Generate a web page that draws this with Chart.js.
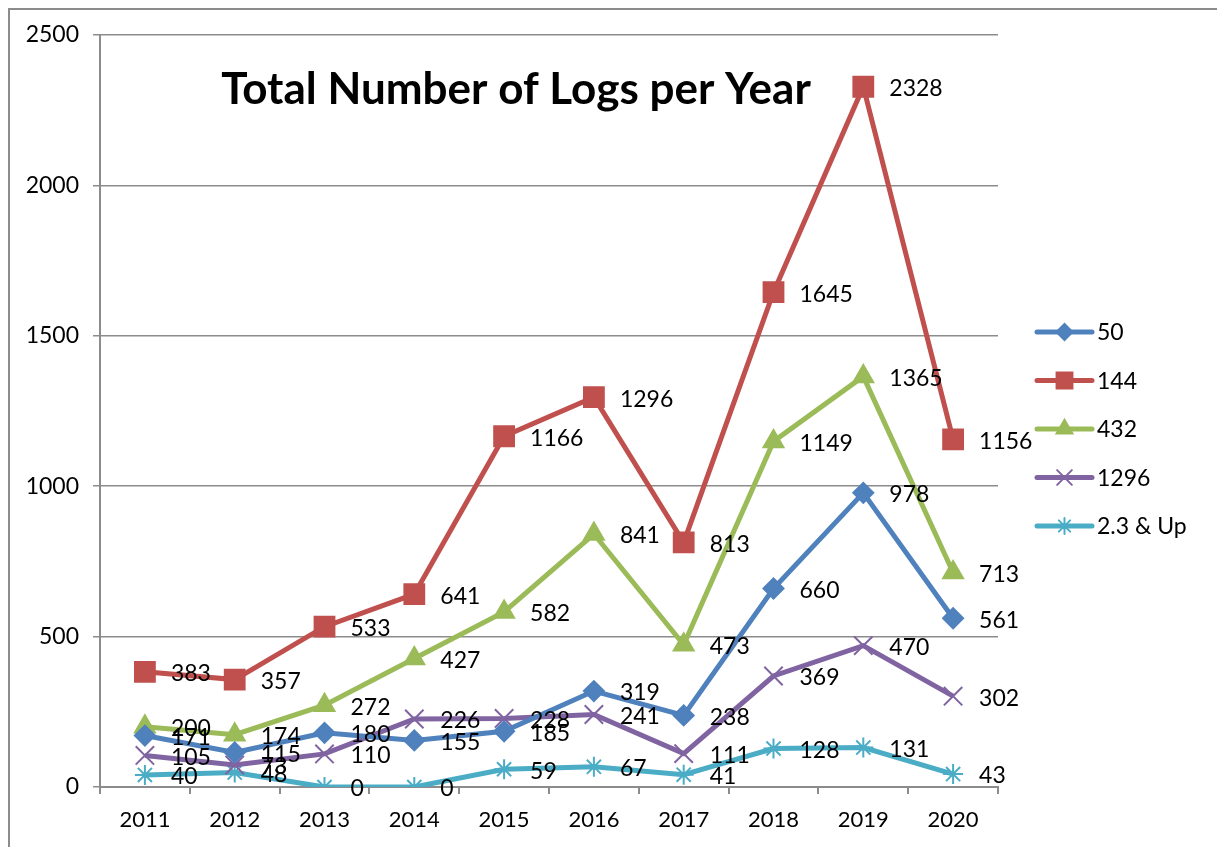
<!DOCTYPE html>
<html>
<head>
<meta charset="utf-8">
<script src="https://cdn.jsdelivr.net/npm/chart.js@4"></script>
<style>
  html, body { margin: 0; padding: 0; background: #fff; overflow: hidden; }
  #wrap { position: relative; width: 1217px; height: 847px; }
  #frame { position: absolute; left: 8px; top: 8px; width: 1230px; height: 860px; border: 2px solid #8c8c8c; box-sizing: border-box; pointer-events: none; }
  canvas { position: absolute; left: 0; top: 0; }
</style>
</head>
<body>
<div id="wrap">
  <canvas id="chart" width="1217" height="847"></canvas>
  <div id="frame"></div>
</div>
<script>
// ---- datos ----
const years = ["2011", "2012", "2013", "2014", "2015", "2016", "2017", "2018", "2019", "2020"];
const s50 = [171, 115, 180, 155, 185, 319, 238, 660, 978, 561];
const s144 = [383, 357, 533, 641, 1166, 1296, 813, 1645, 2328, 1156];
const s432 = [200, 174, 272, 427, 582, 841, 473, 1149, 1365, 713];
const s1296 = [105, 73, 110, 226, 228, 241, 111, 369, 470, 302];
const s23up = [40, 48, 0, 0, 59, 67, 41, 128, 131, 43];
const seriesNames = ["50", "144", "432", "1296", "2.3 & Up"];
const yTicks = [0, 500, 1000, 1500, 2000, 2500];

const FONT = "Lato, 'Liberation Sans', sans-serif";

function ds(label, data, color, style, radius) {
  return {
    label, data,
    borderColor: color, backgroundColor: color,
    pointStyle: style, pointRadius: radius, pointHoverRadius: radius,
    pointBorderColor: color, pointBackgroundColor: color,
    pointBorderWidth: 2,
    borderWidth: 5, tension: 0
  };
}

// etiquetas de datos a la derecha del punto
const valueLabels = {
  id: "valueLabels",
  afterDatasetsDraw(chart) {
    const ctx = chart.ctx;
    ctx.save();
    ctx.font = "23px " + FONT;
    ctx.fillStyle = "#000";
    ctx.textAlign = "left";
    ctx.textBaseline = "middle";
    chart.data.datasets.forEach((d, i) => {
      chart.getDatasetMeta(i).data.forEach((pt, j) => {
        ctx.fillText(String(d.data[j]), pt.x + 26, pt.y + 2);
      });
    });
    ctx.restore();
  }
};

// titulo dentro del area
const innerTitle = {
  id: "innerTitle",
  afterDraw(chart) {
    const ctx = chart.ctx;
    ctx.save();
    ctx.font = "bold 44px " + FONT;
    ctx.fillStyle = "#000";
    ctx.textAlign = "center";
    ctx.textBaseline = "middle";
    ctx.fillText("Total Number of Logs per Year", 516, 90);
    ctx.restore();
  }
};

// leyenda con linea + marcador
const sideLegend = {
  id: "sideLegend",
  afterDraw(chart) {
    const ctx = chart.ctx;
    const x0 = 1037, x1 = 1092, top = 332, step = 48.5;
    ctx.save();
    chart.data.datasets.forEach((d, i) => {
      const y = top + i * step;
      ctx.strokeStyle = d.borderColor;
      ctx.lineWidth = 5;
      ctx.lineCap = "round";
      ctx.beginPath();
      ctx.moveTo(x0, y);
      ctx.lineTo(x1, y);
      ctx.stroke();
      ctx.fillStyle = d.backgroundColor;
      ctx.lineWidth = 2;
      Chart.helpers.drawPoint(ctx, { pointStyle: d.pointStyle, radius: d.pointRadius * 0.8, rotation: 0, borderWidth: 2 }, (x0 + x1) / 2, y);
      ctx.fillStyle = "#000";
      ctx.font = "23px " + FONT;
      ctx.textAlign = "left";
      ctx.textBaseline = "middle";
      ctx.fillText(d.label, 1097, y + 1);
    });
    ctx.restore();
  }
};

new Chart(document.getElementById("chart"), {
  type: "line",
  data: {
    labels: years,
    datasets: [
      ds(seriesNames[0], s50, "#4F81BD", "rectRot", 10),
      ds(seriesNames[1], s144, "#C0504D", "rect", 14),
      ds(seriesNames[2], s432, "#9BBB59", "triangle", 11.5),
      ds(seriesNames[3], s1296, "#8064A2", "crossRot", 13),
      ds(seriesNames[4], s23up, "#4BACC6", "star", 10)
    ]
  },
  options: {
    responsive: false,
    animation: false,
    layout: { padding: { left: 0, top: 35, right: 219, bottom: 0 } },
    scales: {
      x: {
        offset: true,
        afterFit(s) { s.height = 60; },
        grid: { display: true, offset: true, drawOnChartArea: false, tickLength: 7, color: "#8c8c8c", lineWidth: 2 },
        border: { color: "#8c8c8c", width: 2 },
        ticks: { color: "#000", font: { size: 22, family: FONT }, padding: 13, maxRotation: 0 }
      },
      y: {
        min: 0, max: 2500,
        afterFit(s) { s.width = 100; },
        afterBuildTicks(s) { s.ticks = yTicks.map(v => ({ value: v })); },
        grid: { color: "#8c8c8c", lineWidth: 1.5, tickLength: 7 },
        border: { color: "#8c8c8c", width: 2 },
        ticks: { color: "#000", font: { size: 23, family: FONT }, padding: 14, callback: v => String(v) }
      }
    },
    plugins: {
      legend: { display: false },
      title: { display: false },
      tooltip: { enabled: false }
    }
  },
  plugins: [valueLabels, innerTitle, sideLegend]
});
</script>
</body>
</html>
